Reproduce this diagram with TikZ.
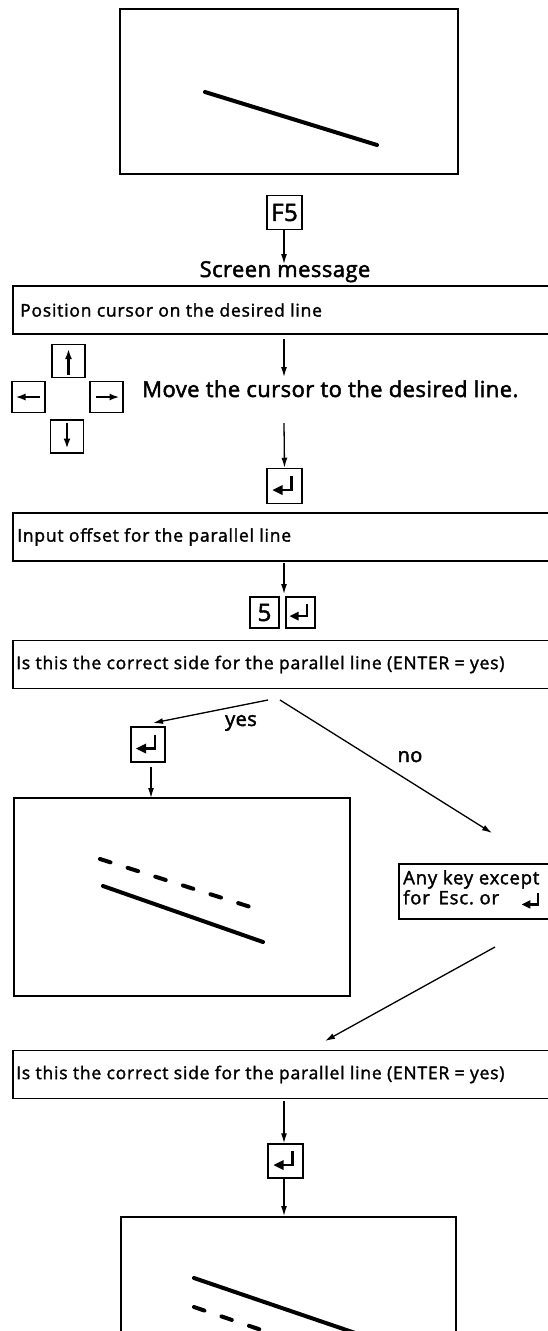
\documentclass[tikz,border=0pt]{standalone}
\usepackage{fontspec}
\setmainfont{Open Sans}[FakeBold=2]
\newfontfamily\msgfont{Open Sans}[FakeBold=1.8, LetterSpace=4.5]
\newfontfamily\bigfont{Open Sans}[FakeBold=2.2, LetterSpace=2]
\usetikzlibrary{arrows.meta}
\tikzset{
  screenbox/.style={draw, line width=1.6pt, inner sep=0pt},
  keybox/.style={draw, line width=1.5pt, inner sep=0pt, minimum width=33pt, minimum height=33pt},
  msgbox/.style={draw, line width=1.5pt, inner sep=0pt, minimum height=48pt, minimum width=600pt, anchor=west},
  msgtext/.style={font=\msgfont\fontsize{17.5}{20}\selectfont, anchor=west, inner sep=0pt},
  flow/.style={-{Latex[length=10pt,width=6pt]}, line width=1.3pt},
  solidline/.style={line width=4pt, line cap=round},
  dashline/.style={line width=4pt, line cap=round, dash pattern=on 11pt off 18pt},
  keyarrow/.style={line width=2.2pt, -{Latex[length=10pt,width=7pt]}},
  entersym/.pic={
    \draw[line width=2.2pt] (7,-10) -- (7,4) -- (-3,4);
    \fill (-12,4) -- (-2,-1) -- (-2,9) -- cycle;
  }
}
\begin{document}
\begin{tikzpicture}[x=1pt,y=-1pt]
\useasboundingbox (0,0) rectangle (547,1331);

% top screen
\node[screenbox, minimum width=338pt, minimum height=165pt] (scr1) at (289,91.5) {};
\draw[solidline] (205,92) -- (377,145);

% F5
\node[keybox, minimum width=35pt, minimum height=34pt, font=\bigfont\fontsize{24}{26}\selectfont] (f5) at (284.5,212.5) {F5};
\node[font=\bigfont\fontsize{22}{26}\selectfont, anchor=base, inner sep=0pt] (sm) at (285,277) {Screen message};
\coordinate (smtop) at (284,264);
\draw[flow] (f5.south -| smtop) -- (smtop);

% message 1
\node[msgbox] (m1) at (12,310) {};
\node[msgtext] (t1) at (20,310) {Position cursor on the desired line};
\coordinate (a2s) at (284,339);
\coordinate (a2e) at (284,377);
\draw[flow] (a2s) -- (a2e);

% arrow keys
\node[keybox] (kup) at (68.5,361) {};
\node[keybox, minimum height=31pt] (kleft) at (28.5,397) {};
\node[keybox, minimum height=31pt] (kright) at (106.5,397) {};
\node[keybox] (kdown) at (67,436.5) {};
\draw[keyarrow] ([yshift=-14pt]kup.center) -- ([yshift=12pt]kup.center);
\draw[keyarrow] ([xshift=11pt]kleft.center) -- ([xshift=-13pt]kleft.center);
\draw[keyarrow] ([xshift=-11pt]kright.center) -- ([xshift=13pt]kright.center);
\draw[keyarrow] ([yshift=14pt]kdown.center) -- ([yshift=-12pt]kdown.center);

\node[font=\bigfont\fontsize{22}{24}\selectfont, anchor=base west, inner sep=0pt] (mv) at (142,397) {Move the cursor to the desired line.};

\coordinate (a3s) at (284,423);
\node[keybox, minimum width=35pt, minimum height=35pt] (e1) at (284.5,486) {};
\pic at (e1.center) {entersym};
\draw[flow] (a3s) -- (e1.north);

% message 2
\node[msgbox] (m2) at (12,537) {};
\node[msgtext] (t2) at (17,537) {Input offset for the parallel line};

\node[keybox, minimum width=29pt, minimum height=31pt, font=\bigfont\fontsize{24}{26}\selectfont] (k5) at (264.5,612.5) {5};
\node[keybox, minimum width=29pt, minimum height=31pt] (e5) at (300.5,612.5) {};
\pic[scale=0.9] at (e5.center) {entersym};
\coordinate (a4s) at (284,563);
\coordinate (a4e) at (284,594);
\draw[flow] (a4s) -- (a4e);

% message 3
\node[msgbox] (m3) at (12,664.5) {};
\node[msgtext] (t3) at (16,664.5) {Is this the correct side for the parallel line (ENTER = yes)};

% yes branch
\coordinate (ys) at (268,700);
\coordinate (ye) at (153,723);
\draw[flow] (ys) -- (ye);
\node[font=\bigfont\fontsize{20}{22}\selectfont, anchor=base, inner sep=0pt] (yes) at (241,726) {yes};
\node[keybox, minimum width=34pt, minimum height=35pt] (e2) at (148,744.5) {};
\pic at (e2.center) {entersym};
\coordinate (a5s) at (151,767);
\draw[flow] (a5s) -- (a5s |- 0,798);
\node[screenbox, minimum width=336pt, minimum height=198pt] (scr2) at (182,897) {};
\draw[dashline] (100,859) -- (263,911);
\draw[solidline] (103,886) -- (263,942);

% no branch
\coordinate (ns) at (280,700);
\node[draw, line width=1.5pt, inner sep=0pt, minimum width=170pt, minimum height=55pt, anchor=north west] (anyk) at (398,863) {};
\coordinate (ne) at (492,833);
\draw[flow] (ns) -- (ne);
\node[font=\bigfont\fontsize{20}{22}\selectfont, anchor=base, inner sep=0pt] (no) at (410,762) {no};
\node[anchor=north west, align=left, font=\msgfont\fontsize{18.5}{20}\selectfont, inner sep=0pt] (anyt) at (403,870) {Any key except\\for\, Esc.\ or};
\pic[scale=0.85] at (532,901) {entersym};

\coordinate (bs) at (495,947);
\coordinate (be) at (325,1041);
\draw[flow] (bs) -- (be);

% message 4
\node[msgbox] (m4) at (12,1074.5) {};
\node[msgtext] (t4) at (16,1074.5) {Is this the correct side for the parallel line (ENTER = yes)};
\node[keybox, minimum width=35pt, minimum height=34pt] (e3) at (285.5,1161) {};
\pic at (e3.center) {entersym};
\coordinate (a6s) at (284,1101);
\draw[flow] (a6s) -- (e3.north -| a6s);
\node[screenbox, minimum width=335pt, minimum height=140pt, anchor=north west] (scr3) at (120,1216) {};
\draw[flow] (e3.south -| a6s) -- (scr3.north -| a6s);
\draw[solidline] (194,1278) -- (364,1336);
\draw[dashline] (194,1307) -- (364,1365);
\end{tikzpicture}
\end{document}
